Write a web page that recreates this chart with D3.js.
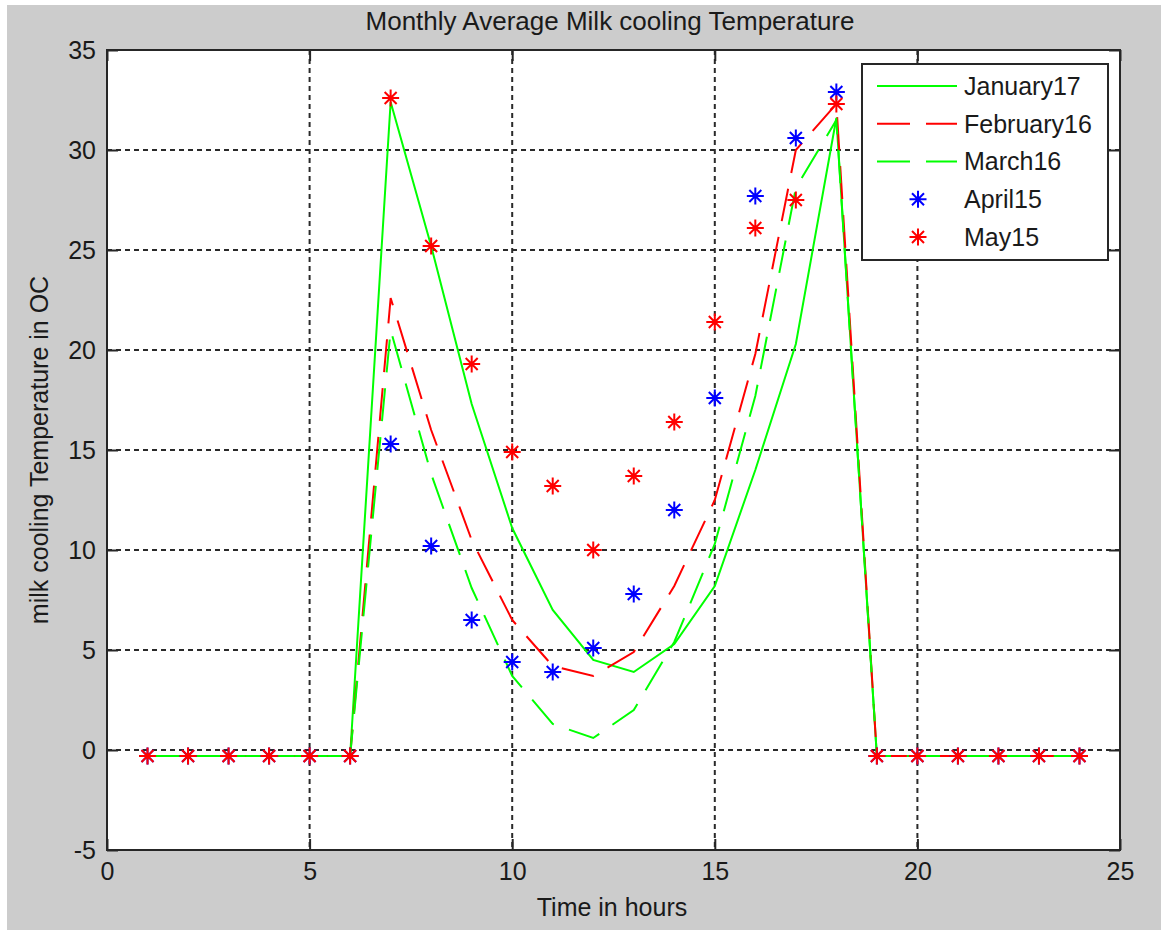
<!DOCTYPE html>
<html>
<head>
<meta charset="utf-8">
<script src="https://cdn.jsdelivr.net/npm/d3@7"></script>
<style>
  html, body { margin: 0; padding: 0; background: #fff; }
  svg { display: block; }
  text { font-family: "Liberation Sans", Arial, sans-serif; fill: #1a1a1a; }
</style>
</head>
<body>
<div id="chart"></div>
<script>
// Hours of the day (x values)
const hours = [1, 2, 3, 4, 5, 6, 7, 8, 9, 10, 11, 12, 13, 14, 15, 16, 17, 18, 19, 20, 21, 22, 23, 24];

// Temperature series
const jan17 = [-0.3, -0.3, -0.3, -0.3, -0.3, -0.3, 32.4, 25.2, 17.3, 11.1, 7.0, 4.5, 3.9, 5.3, 8.2, 14.0, 20.3, 31.6, -0.3, -0.3, -0.3, -0.3, -0.3, -0.3];
const feb16 = [-0.3, -0.3, -0.3, -0.3, -0.3, -0.3, 22.6, 16.0, 10.5, 6.5, 4.2, 3.7, 4.9, 8.2, 12.5, 19.8, 30.0, 32.3, -0.3, -0.3, -0.3, -0.3, -0.3, -0.3];
const mar16 = [-0.3, -0.3, -0.3, -0.3, -0.3, -0.3, 21.0, 13.8, 8.1, 3.7, 1.3, 0.6, 2.0, 5.4, 10.3, 17.7, 28.1, 31.5, -0.3, -0.3, -0.3, -0.3, -0.3, -0.3];
const apr15 = [-0.3, -0.3, -0.3, -0.3, -0.3, -0.3, 15.3, 10.2, 6.5, 4.4, 3.9, 5.1, 7.8, 12.0, 17.6, 27.7, 30.6, 32.9, -0.3, -0.3, -0.3, -0.3, -0.3, -0.3];
const may15 = [-0.3, -0.3, -0.3, -0.3, -0.3, -0.3, 32.6, 25.2, 19.3, 14.9, 13.2, 10.0, 13.7, 16.4, 21.4, 26.1, 27.5, 32.3, -0.3, -0.3, -0.3, -0.3, -0.3, -0.3];

const xTicks = [0, 5, 10, 15, 20, 25];
const yTicks = [-5, 0, 5, 10, 15, 20, 25, 30, 35];

const title = "Monthly Average Milk cooling Temperature";
const xLabel = "Time in hours";
const yLabel = "milk cooling Temperature in OC";

// series definitions (order = draw order)
const series = [
    { name: "January17", values: jan17, color: "#00ff00", dash: null, marker: false },
    { name: "February16", values: feb16, color: "#ff0000", dash: "33,16", marker: false },
    { name: "March16", values: mar16, color: "#00ff00", dash: "33,16", marker: false },
    { name: "April15", values: apr15, color: "#0000ff", dash: null, marker: true },
    { name: "May15", values: may15, color: "#ff0000", dash: null, marker: true }
];

const width = 1161, height = 930;
const plot = { left: 107, right: 1120, top: 50, bottom: 850 };

const svg = d3.select("#chart").append("svg")
    .attr("width", width)
    .attr("height", height);

// figure background (grey, with thin white edge top/left like the screenshot)
svg.append("rect").attr("x", 7).attr("y", 5)
    .attr("width", width - 7).attr("height", height - 5)
    .attr("fill", "#cccccc");

const x = d3.scaleLinear().domain([0, 25]).range([plot.left, plot.right]);
const y = d3.scaleLinear().domain([-5, 35]).range([plot.bottom, plot.top]);

// plot area
svg.append("rect")
    .attr("x", plot.left).attr("y", plot.top)
    .attr("width", plot.right - plot.left)
    .attr("height", plot.bottom - plot.top)
    .attr("fill", "#fff");

// grid
const grid = svg.append("g").attr("stroke", "#2a2a2a").attr("stroke-width", 2)
    .attr("stroke-dasharray", "5,4");
grid.selectAll(".gx").data(xTicks.slice(1, -1)).enter().append("line")
    .attr("x1", d => x(d)).attr("x2", d => x(d))
    .attr("y1", plot.top).attr("y2", plot.bottom);
grid.selectAll(".gy").data(yTicks.slice(1, -1)).enter().append("line")
    .attr("y1", d => y(d)).attr("y2", d => y(d))
    .attr("x1", plot.left).attr("x2", plot.right);

// lines
const line = d3.line()
    .x((d, i) => x(hours[i]))
    .y(d => y(d));

series.filter(s => !s.marker).forEach(s => {
    svg.append("path")
        .datum(s.values)
        .attr("d", line)
        .attr("fill", "none")
        .attr("stroke", s.color)
        .attr("stroke-width", 2)
        .attr("stroke-dasharray", s.dash);
});

// MATLAB-style '*' marker
function starPath(cx, cy) {
    const r = 8.5, d = 6;
    return `M${cx - r},${cy}H${cx + r}M${cx},${cy - r}V${cy + r}` +
        `M${cx - d},${cy - d}L${cx + d},${cy + d}M${cx - d},${cy + d}L${cx + d},${cy - d}`;
}

series.filter(s => s.marker).forEach(s => {
    svg.append("g").selectAll("path")
        .data(s.values)
        .enter()
        .append("path")
        .attr("d", (d, i) => starPath(x(hours[i]), y(d)))
        .attr("stroke", s.color)
        .attr("stroke-width", 2)
        .attr("fill", "none");
});

// axes with inward ticks
const axisStyle = g => {
    g.selectAll("path.domain").remove();
    g.selectAll("line").attr("stroke", "#262626").attr("stroke-width", 2);
    g.selectAll("text").attr("font-size", 25).style("fill", "#1a1a1a");
};
const plain = d => String(d);  // plain hyphen minus, like the original

svg.append("g")
    .attr("transform", `translate(0,${plot.bottom})`)
    .call(d3.axisBottom(x).tickValues(xTicks).tickSize(-11).tickPadding(12).tickFormat(plain))
    .call(axisStyle);

svg.append("g")
    .attr("transform", `translate(0,${plot.top})`)
    .call(d3.axisTop(x).tickValues(xTicks).tickSize(-11).tickFormat(""))
    .call(axisStyle);

svg.append("g")
    .attr("transform", `translate(${plot.left},0)`)
    .call(d3.axisLeft(y).tickValues(yTicks).tickSize(-11).tickPadding(11).tickFormat(plain))
    .call(axisStyle);

svg.append("g")
    .attr("transform", `translate(${plot.right},0)`)
    .call(d3.axisRight(y).tickValues(yTicks).tickSize(-11).tickFormat(""))
    .call(axisStyle);

// box
svg.append("rect")
    .attr("x", plot.left).attr("y", plot.top)
    .attr("width", plot.right - plot.left)
    .attr("height", plot.bottom - plot.top)
    .attr("fill", "none")
    .attr("stroke", "#262626")
    .attr("stroke-width", 2);

// title and labels
svg.append("text")
    .attr("x", 610).attr("y", 30)
    .attr("text-anchor", "middle").attr("font-size", 26)
    .text(title);

svg.append("text")
    .attr("x", 612).attr("y", 916)
    .attr("text-anchor", "middle").attr("font-size", 25)
    .text(xLabel);

svg.append("text")
    .attr("transform", `translate(48,${(plot.top + plot.bottom) / 2}) rotate(-90)`)
    .attr("text-anchor", "middle").attr("font-size", 25)
    .text(yLabel);

// legend
const legend = svg.append("g");
legend.append("rect")
    .attr("x", 862).attr("y", 64)
    .attr("width", 246).attr("height", 196)
    .attr("fill", "#fff")
    .attr("stroke", "#262626")
    .attr("stroke-width", 2);

const rowY = d3.scaleLinear().domain([0, series.length - 1]).range([86, 237]);

series.forEach((s, i) => {
    const ly = rowY(i);
    if (s.marker) {
        legend.append("path")
            .attr("d", starPath(918, ly))
            .attr("stroke", s.color).attr("stroke-width", 2).attr("fill", "none");
    } else {
        legend.append("line")
            .attr("x1", 877).attr("x2", 957)
            .attr("y1", ly).attr("y2", ly)
            .attr("stroke", s.color).attr("stroke-width", 2)
            .attr("stroke-dasharray", s.dash);
    }
    legend.append("text")
        .attr("x", 964).attr("y", ly)
        .attr("dy", "0.35em")
        .attr("font-size", 25)
        .text(s.name);
});
</script>
</body>
</html>
